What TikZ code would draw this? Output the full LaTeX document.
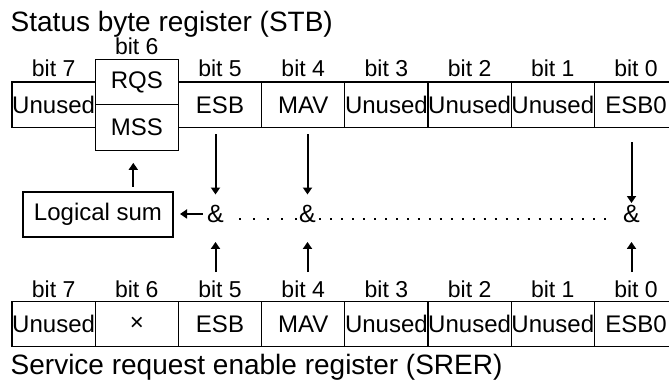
\documentclass[tikz,border=0pt]{standalone}
\usepackage{fontspec}
\setmainfont{Liberation Sans}
\usetikzlibrary{
		positioning,
		arrows.meta
	}
\tikzset{
		>={Triangle[width=9pt,length=7pt]}
	}

\begin{document}
\begin{tikzpicture}[x=1pt, y=-1pt,
		cell/.style={draw, line width=1.2pt, minimum width=83.2pt, minimum height=45.5pt, inner sep=0pt, font=\fontsize{24}{28}\selectfont},
		bitlbl/.style={anchor=base, inner sep=0pt, font=\fontsize{23}{27}\selectfont},
		regtitle/.style={anchor=base west, inner sep=0pt, font=\fontsize{28}{33}\selectfont},
		amp/.style={anchor=base, inner sep=0pt, font=\fontsize{25}{29}\selectfont},
		sig/.style={->, line width=2pt},
		dots/.style={line width=2pt}]
		\useasboundingbox (0,0) rectangle (669,381);
		% status byte register
		\node[regtitle] (stb) at (10.5, 31) {Status byte register (STB)};
		\foreach \b/\t in {7/Unused, 5/ESB, 4/MAV, 3/Unused, 2/Unused, 1/Unused, 0/ESB0} {
			\node[cell] (s\b) at ({53.6+83.2*(7-\b)}, 104.75) {\t};
			\node[bitlbl] (sl\b) at ({53.6+83.2*(7-\b)}, 76.5) {bit \b};
		}
		\node[cell] (rqs) at (136.8, 82) {RQS};
		\node[cell] (mss) at (136.8, 127.5) {MSS};
		\node[bitlbl] (sl6) at (136.8, 54.5) {bit 6};
		% service request enable register
		\foreach \b/\t in {7/Unused, 6/×, 5/ESB, 4/MAV, 3/Unused, 2/Unused, 1/Unused, 0/ESB0} {
			\node[cell] (e\b) at ({53.6+83.2*(7-\b)}, 324) {\t};
			\node[bitlbl] (el\b) at ({53.6+83.2*(7-\b)}, 297.5) {bit \b};
		}
		\node[regtitle] (srer) at (10.5, 374) {Service request enable register (SRER)};
		% and gates, logical sum
		\node[amp] (a5) at (215.5, 222.5) {\&};
		\node[amp] (a4) at (307.5, 222.5) {\&};
		\node[amp] (a0) at (631.5, 222.5) {\&};
		\node[cell, minimum width=150pt, minimum height=45pt] (ls) at (98, 214.5) {Logical sum};
		\draw[sig, shorten <=6pt, shorten >=10.5pt] (a5 |- s5.south) -- (a5.north);
		\draw[sig, shorten <=6pt, shorten >=10.5pt] (a4 |- s4.south) -- (a4.north);
		\draw[sig, shorten <=14pt, shorten >=2pt] (a0 |- s0.south) -- (a0.north);
		\draw[sig, shorten <=28.6pt, shorten >=19pt] (a5 |- e5.north) -- (a5.south);
		\draw[sig, shorten <=28.6pt, shorten >=19pt] (a4 |- e4.north) -- (a4.south);
		\draw[sig, shorten <=28.6pt, shorten >=19pt] (a0 |- e0.north) -- (a0.south);
		\draw[sig, shorten <=4.2pt, shorten >=6.4pt] (a5.west) -- (a5.west -| ls.east);
		\coordinate (up) at ([xshift=-3.5pt]mss.south);
		\draw[sig, shorten <=4.5pt, shorten >=12pt] (up |- ls.north) -- (up);
		\draw[dots, dash pattern=on 2pt off 12pt, shorten <=15.3pt, shorten >=2.2pt]
			([yshift=3.5pt]a5.base east) -- ([yshift=3.5pt]a4.base west);
		\draw[dots, dash pattern=on 2pt off 8.96pt, shorten <=3.3pt, shorten >=17.2pt]
			([yshift=3.5pt]a4.base east) -- ([yshift=3.5pt]a0.base west);
	\end{tikzpicture}
\end{document}
